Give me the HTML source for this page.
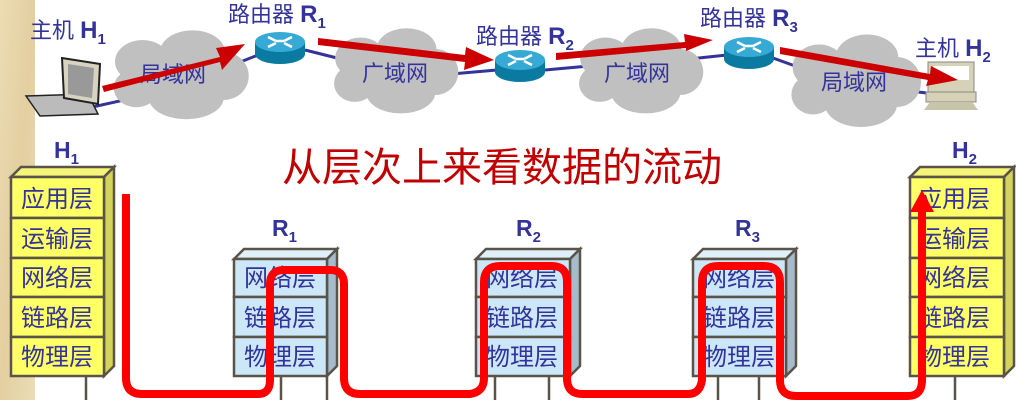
<!DOCTYPE html>
<html><head><meta charset="utf-8"><style>
html,body{margin:0;padding:0;background:#fff;}
svg{display:block;}
text{font-family:"Liberation Sans","Noto Sans CJK SC",sans-serif;}
</style></head><body>
<svg width="1016" height="400" viewBox="0 0 1016 400" xmlns="http://www.w3.org/2000/svg">
<defs>
<linearGradient id="bg" x1="0" y1="0" x2="1" y2="1"><stop offset="0" stop-color="#eddcb4"/><stop offset="0.5" stop-color="#e3cf9f"/><stop offset="1" stop-color="#ecdcb6"/></linearGradient>
<g id="cloud"><ellipse cx="0" cy="0" rx="48" ry="24"/><ellipse cx="-30" cy="-12" rx="22" ry="18"/><ellipse cx="10" cy="-20" rx="26" ry="18"/><ellipse cx="35" cy="0" rx="20" ry="20"/><ellipse cx="-35" cy="10" rx="18" ry="16"/><ellipse cx="5" cy="18" rx="30" ry="18"/></g>
<g id="router"><path d="M-25,0 v12 a25,10 0 0 0 50,0 v-12 z" fill="#0a7aa0"/><ellipse cx="0" cy="0" rx="25" ry="10" fill="#36a9d4"/><path d="M-12,-5 l8,4 M12,-5 l-8,4 M-12,5 l8,-4 M12,5 l-8,-4 M-4,-1 h8" stroke="#fff" stroke-width="2.5"/></g>
</defs>
<rect x="0" y="0" width="35" height="400" fill="url(#bg)"/>

<g stroke="#333399" stroke-width="3" fill="none">
<path d="M88,108 L160,92 M220,70 L258,55 M305,50 L345,60 M440,75 L497,70 M545,70 L600,65 M680,60 L727,55 M773,58 L820,75 M900,90 L945,95"/>
</g>
<g fill="#c0c0c0">
<use href="#cloud" transform="translate(180,76) scale(1.25,1.2)"/>
<use href="#cloud" transform="translate(395,72) scale(1.15,1.15)"/>
<use href="#cloud" transform="translate(640,72) scale(1.15,1.15)"/>
<use href="#cloud" transform="translate(855,82) scale(1.2,1.25)"/>
</g>
<g fill="#333399" font-size="22">
<text x="140" y="82">局域网</text>
<text x="362" y="81">广域网</text>
<text x="604" y="81">广域网</text>
<text x="821" y="90">局域网</text>
</g>
<use href="#router" transform="translate(280,42)"/>
<use href="#router" transform="translate(520,60)"/>
<use href="#router" transform="translate(749,47)"/>
<g>
<polygon points="26,96 88,94 98,114 40,116" fill="#bbb" stroke="#222" stroke-width="1.5"/>
<polygon points="62,58 100,64 98,104 64,98" fill="#d8d2c0" stroke="#222" stroke-width="2"/>
<polygon points="68,64 94,68 92,98 68,94" fill="#999"/>
</g>
<g>
<rect x="928" y="62" width="46" height="30" fill="#d6d2b8" stroke="#888"/>
<rect x="933" y="66" width="36" height="14" fill="#fff"/>
<rect x="926" y="92" width="50" height="10" fill="#d6d2b8" stroke="#888"/>
<polygon points="930,102 972,102 978,110 924,110" fill="#c8c4aa"/>
</g>
<g fill="#333399" font-size="22">
<text x="30" y="38">主机 <tspan font-weight="bold" font-size="24">H</tspan><tspan font-size="15" font-weight="bold" dy="6">1</tspan></text>
<text x="228" y="22">路由器 <tspan font-weight="bold" font-size="24">R</tspan><tspan font-size="15" font-weight="bold" dy="6">1</tspan></text>
<text x="476" y="44">路由器 <tspan font-weight="bold" font-size="24">R</tspan><tspan font-size="15" font-weight="bold" dy="6">2</tspan></text>
<text x="700" y="26">路由器 <tspan font-weight="bold" font-size="24">R</tspan><tspan font-size="15" font-weight="bold" dy="6">3</tspan></text>
<text x="915" y="56">主机 <tspan font-weight="bold" font-size="24">H</tspan><tspan font-size="15" font-weight="bold" dy="6">2</tspan></text>
</g>
<g fill="#cc0000">
<polygon points="102,86 220,57 216,48 245,44 222,70 220,62 104,92"/>
<polygon points="318,38 465,55 466,47 494,60 464,70 465,62 318,45"/>
<polygon points="556,53 685,42 684,34 713,40 686,51 686,48 556,60"/>
<polygon points="780,47 930,74 931,66 958,80 926,86 928,80 780,54"/>
</g>
<text x="282" y="181" fill="#c00000" font-size="40">从层次上来看数据的流动</text>

<g fill="#333399" font-weight="bold">
<text x="54" y="158" font-size="23">H<tspan font-size="15" dy="6">1</tspan></text>
<text x="272" y="236" font-size="23">R<tspan font-size="15" dy="6">1</tspan></text>
<text x="516" y="236" font-size="23">R<tspan font-size="15" dy="6">2</tspan></text>
<text x="735" y="236" font-size="23">R<tspan font-size="15" dy="6">3</tspan></text>
<text x="952" y="158" font-size="23">H<tspan font-size="15" dy="6">2</tspan></text>
</g>

<g stroke="#5a5448" stroke-width="2.5">
<polygon points="11,177 21,167 114,167 104,177" fill="#f5f57a"/>
<polygon points="104,177 114,167 114,366 104,376" fill="#d4d45a"/>
<rect x="11" y="177" width="93" height="41" fill="#ffff66"/>
<rect x="11" y="218" width="93" height="40" fill="#ffff66"/>
<rect x="11" y="258" width="93" height="39" fill="#ffff66"/>
<rect x="11" y="297" width="93" height="40" fill="#ffff66"/>
<rect x="11" y="337" width="93" height="39" fill="#ffff66"/>
<polygon points="910,177 920,167 1014,167 1004,177" fill="#f5f57a"/>
<polygon points="1004,177 1014,167 1014,366 1004,376" fill="#d4d45a"/>
<rect x="910" y="177" width="94" height="41" fill="#ffff66"/>
<rect x="910" y="218" width="94" height="40" fill="#ffff66"/>
<rect x="910" y="258" width="94" height="39" fill="#ffff66"/>
<rect x="910" y="297" width="94" height="40" fill="#ffff66"/>
<rect x="910" y="337" width="94" height="39" fill="#ffff66"/>
<polygon points="234,259 244,249 337,249 327,259" fill="#e0f0fa"/>
<polygon points="327,259 337,249 337,366 327,376" fill="#a6bccc"/>
<rect x="234" y="259" width="93" height="38" fill="#cce8f8"/>
<rect x="234" y="297" width="93" height="40" fill="#cce8f8"/>
<rect x="234" y="337" width="93" height="39" fill="#cce8f8"/>
<polygon points="476,259 486,249 580,249 570,259" fill="#e0f0fa"/>
<polygon points="570,259 580,249 580,366 570,376" fill="#a6bccc"/>
<rect x="476" y="259" width="94" height="38" fill="#cce8f8"/>
<rect x="476" y="297" width="94" height="40" fill="#cce8f8"/>
<rect x="476" y="337" width="94" height="39" fill="#cce8f8"/>
<polygon points="693,259 703,249 796,249 786,259" fill="#e0f0fa"/>
<polygon points="786,259 796,249 796,366 786,376" fill="#a6bccc"/>
<rect x="693" y="259" width="93" height="38" fill="#cce8f8"/>
<rect x="693" y="297" width="93" height="40" fill="#cce8f8"/>
<rect x="693" y="337" width="93" height="39" fill="#cce8f8"/>
<path d="M86,376 V400 M281,376 V400 M327,376 V400 M495,376 V400 M549,376 V400 M718,376 V400 M759,376 V400 M955,376 V400" fill="none"/>
</g>
<g fill="#333399" font-size="24">
<text x="21" y="207">应用层</text><text x="21" y="247">运输层</text><text x="21" y="286">网络层</text><text x="21" y="326">链路层</text><text x="21" y="365">物理层</text>
<text x="918" y="207">应用层</text><text x="918" y="247">运输层</text><text x="918" y="286">网络层</text><text x="918" y="326">链路层</text><text x="918" y="365">物理层</text>
<text x="244" y="286">网络层</text><text x="244" y="326">链路层</text><text x="244" y="365">物理层</text>
<text x="486" y="286">网络层</text><text x="486" y="326">链路层</text><text x="486" y="365">物理层</text>
<text x="703" y="286">网络层</text><text x="703" y="326">链路层</text><text x="703" y="365">物理层</text>
</g>
<path d="M126,194 V378 Q126,394 142,394 H258 Q270,394 270,380 V284 Q270,270 284,270 H330 Q344,270 344,284 V378 Q344,394 360,394 H470 Q484,392 484,378 V282 Q484,266 500,266 H552 Q567,266 567,282 V378 Q567,394 582,394 H688 Q700,394 702,380 V282 Q702,266 718,266 H764 Q780,266 780,282 V380 Q780,396 796,396 H908 Q922,396 922,380 V210" fill="none" stroke="#ff0000" stroke-width="8" stroke-linejoin="round"/>
<polygon points="910,212 934,212 922,190" fill="#ff0000"/>
</svg>
</body></html>
